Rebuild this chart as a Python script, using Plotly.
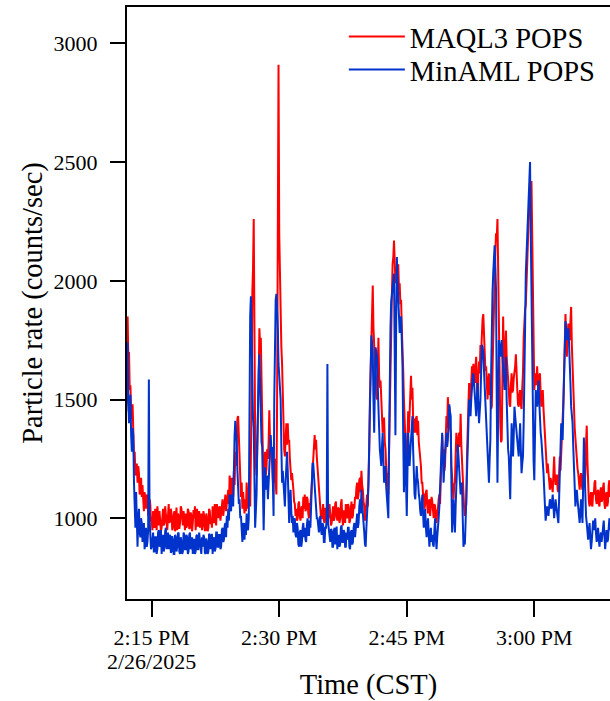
import pandas as pd
import plotly.graph_objects as go

# Particle rate (counts/sec), 5-second samples starting 2025-02-26 14:12:00 (12 per row = 1 minute)
maql3_pops = [
    1620, 1790, 1850, 1680, 1700, 1540, 1560, 1430, 1420, 1480, 1360, 1260,
    1280, 1180, 1200, 1230, 1150, 1220, 1190, 1100, 1120, 1170, 1090, 1140,
    1080, 1030, 1110, 1050, 1040, 1100, 1090, 1010, 1020, 1080, 1060, 990,
    990, 950, 1030, 980, 960, 1040, 1010, 950, 1050, 985, 970, 1030,
    1000, 945, 960, 1020, 1040, 970, 980, 1050, 1020, 960, 950, 1010,
    1060, 980, 990, 1040, 1020, 950, 960, 1010, 1030, 945, 1000, 1045,
    950, 1020, 1010, 955, 980, 1050, 1040, 975, 970, 1030, 1000, 950,
    1020, 960, 970, 1040, 1030, 955, 960, 1025, 1010, 945, 980, 1035,
    1000, 1050, 950, 1010, 1040, 965, 990, 1030, 960, 1000, 1020, 950,
    970, 1030, 1010, 950, 950, 1020, 1000, 945, 960, 1040, 1030, 975,
    1000, 960, 1050, 990, 980, 1060, 1030, 970, 1060, 1000, 1000, 1045,
    1050, 990, 1020, 1070, 1080, 1010, 1040, 1090, 1100, 1030, 1060, 1110,
    1120, 1060, 1180, 1110, 1090, 1170, 1150, 1090, 1200, 1140, 1280, 1220,
    1330, 1420, 1430, 1330, 1250, 1180, 1090, 1150, 1040, 1110, 1080, 1020,
    1080, 1030, 1150, 1050, 1040, 1100, 1100, 1050, 1250, 1480, 1950, 2050,
    2260, 1700, 1350, 1230, 1180, 1300, 1420, 1600, 1800, 1720, 1760, 1500,
    1420, 1250, 1120, 1220, 1280, 1180, 1210, 1290, 1250, 1320, 1455, 1330,
    1310, 1250, 1230, 1160, 1150, 1230, 1250, 1150, 1100, 1500, 2400, 2910,
    2200, 1980, 1900, 1720, 1650, 1480, 1380, 1290, 1260, 1350, 1400, 1310,
    1400, 1320, 1330, 1250, 1220, 1160, 1190, 1120, 1120, 1070, 1060, 1010,
    1040, 990, 1000, 1060, 1070, 1010, 990, 1040, 1050, 1000, 1090, 1040,
    1100, 1030, 1040, 1090, 1080, 1020, 1000, 1060, 1060, 1100, 1150, 1190,
    1240, 1310, 1350, 1290, 1330, 1260, 1220, 1140, 1100, 1060, 1050, 1000,
    1000, 1050, 1060, 990, 980, 1040, 1040, 990, 1080, 1030, 1000, 1060,
    1020, 970, 980, 1040, 1050, 990, 1000, 1060, 1070, 1010, 990, 1045,
    1040, 980, 1000, 1060, 1080, 1000, 970, 1030, 1030, 980, 1060, 1010,
    1000, 1060, 1050, 980, 990, 1040, 1070, 1000, 1010, 1060, 1040, 1090,
    1080, 1130, 1150, 1080, 1100, 1160, 1170, 1110, 1200, 1140, 1120, 1070,
    1050, 990, 1030, 1090, 1100, 1050, 1160, 1290, 1500, 1620, 1790, 1880,
    1980, 1800, 1720, 1660, 1640, 1520, 1500, 1640, 1760, 1600, 1550, 1580,
    1500, 1390, 1360, 1420, 1420, 1320, 1290, 1210, 1150, 1190, 1100, 1280,
    1500, 1720, 1870, 1940, 2070, 2100, 2170, 2030, 1990, 2050, 2060, 2010,
    2070, 1960, 1990, 1900, 1920, 1800, 1730, 1620, 1500, 1400, 1360, 1250,
    1220, 1380, 1450, 1360, 1430, 1540, 1600, 1500, 1550, 1420, 1360, 1420,
    1360, 1420, 1430, 1350, 1410, 1320, 1290, 1240, 1220, 1150, 1150, 1100,
    1100, 1040, 1060, 1110, 1120, 1050, 1020, 1070, 1080, 1010, 1040, 1090,
    1070, 1020, 1000, 1060, 1050, 1000, 980, 1030, 1040, 1080, 1100, 1060,
    1150, 1280, 1350, 1260, 1290, 1200, 1220, 1340, 1430, 1380, 1510, 1450,
    1470, 1380, 1360, 1220, 1150, 1110, 1080, 1140, 1150, 1270, 1360, 1280,
    1290, 1340, 1360, 1300, 1440, 1310, 1220, 1130, 1080, 1040, 1010, 1050,
    1060, 1260, 1430, 1480, 1570, 1480, 1500, 1590, 1640, 1580, 1650, 1590,
    1570, 1640, 1680, 1560, 1500, 1600, 1660, 1610, 1730, 1700, 1800, 1840,
    1860, 1760, 1710, 1620, 1640, 1530, 1500, 1580, 1610, 1520, 1540, 1460,
    1470, 1620, 1750, 1960, 2100, 2120, 2200, 2180, 2260, 2080, 1960, 1620,
    1400, 1320, 1330, 1620, 1850, 1680, 1610, 1720, 1790, 1680, 1610, 1560,
    1540, 1480, 1470, 1560, 1610, 1530, 1540, 1590, 1610, 1640, 1690, 1580,
    1540, 1480, 1470, 1520, 1540, 1480, 1460, 1550, 1610, 1760, 1860, 1880,
    1900, 2010, 2100, 2160, 2250, 2300, 2380, 2400, 2420, 2180, 1960, 1720,
    1540, 1590, 1610, 1560, 1640, 1570, 1540, 1600, 1610, 1520, 1470, 1520,
    1540, 1460, 1400, 1310, 1260, 1210, 1190, 1230, 1190, 1140, 1120, 1170,
    1150, 1110, 1110, 1190, 1260, 1170, 1140, 1180, 1180, 1120, 1110, 1190,
    1260, 1200, 1260, 1330, 1400, 1490, 1610, 1760, 1860, 1740, 1680, 1760,
    1820, 1760, 1750, 1830, 1890, 1730, 1610, 1530, 1470, 1380, 1330, 1280,
    1260, 1210, 1190, 1140, 1120, 1170, 1190, 1140, 1120, 1180, 1190, 1150,
    1190, 1310, 1390, 1240, 1120, 1070, 1050, 1100, 1110, 1060, 1050, 1110,
    1100, 1150, 1160, 1080, 1060, 1110, 1120, 1060, 1050, 1110, 1130, 1070,
    1080, 1130, 1150, 1060, 1040, 1100, 1110, 1050, 1070, 1140, 1160, 1090,
    1100,
]

minaml_pops = [
    1450, 1600, 1740, 1500, 1400, 1480, 1520, 1350, 1280, 1380, 1350, 1150,
    1010, 960, 1110, 980, 880, 990, 1040, 940, 920, 1000, 980, 900,
    930, 980, 870, 940, 960, 880, 900, 950, 1584, 1000, 920, 870,
    880, 930, 940, 860, 860, 920, 920, 850, 870, 940, 950, 880,
    900, 950, 850, 910, 930, 860, 880, 945, 960, 870, 890, 940,
    870, 920, 930, 855, 860, 925, 910, 850, 850, 930, 920, 860,
    880, 935, 940, 860, 850, 920, 900, 850, 860, 940, 930, 870,
    870, 930, 920, 850, 860, 930, 940, 870, 880, 920, 850, 910,
    910, 850, 860, 925, 930, 870, 870, 940, 900, 850, 850, 920,
    880, 930, 920, 855, 850, 915, 900, 850, 860, 935, 930, 870,
    890, 935, 850, 910, 920, 860, 870, 940, 940, 880, 880, 930,
    930, 870, 880, 950, 960, 900, 910, 970, 980, 920, 1010, 960,
    1040, 990, 1100, 1040, 1030, 1100, 1090, 1050, 1250, 1350, 1410, 1380,
    1320, 1200, 1150, 1060, 1080, 1000, 1010, 940, 900, 980, 960, 910,
    980, 930, 1020, 960, 950, 1000, 1690, 1850, 1935, 1700, 1470, 1420,
    1380, 1100, 960, 1030, 1100, 1300, 1550, 1620, 1690, 1500, 1350, 1320,
    1300, 1100, 950, 1100, 1215, 1120, 1150, 1180, 1080, 1140, 1190, 1300,
    1350, 1280, 1300, 1150, 1010, 1500, 1890, 1920, 1945, 1880, 1800, 1650,
    1600, 1560, 1500, 1300, 1150, 1200, 1150, 1080, 1050, 1150, 1230, 1280,
    1200, 1050, 980, 1060, 1120, 1030, 980, 1010, 940, 990, 1000, 930,
    920, 980, 960, 890, 880, 940, 950, 880, 900, 960, 980, 920,
    960, 910, 900, 970, 1000, 930, 930, 990, 960, 1050, 1180, 1230,
    1230, 1180, 1120, 1080, 1060, 1000, 1000, 950, 940, 990, 1010, 950,
    930, 980, 970, 900, 900, 960, 960, 1000, 1650, 980, 950, 900,
    900, 955, 950, 880, 880, 945, 960, 890, 910, 965, 870, 920,
    930, 880, 890, 960, 970, 900, 900, 950, 940, 880, 880, 940,
    910, 960, 960, 880, 870, 940, 950, 890, 900, 960, 980, 920,
    960, 1010, 1020, 960, 980, 1050, 1080, 1020, 1120, 1060, 1000, 950,
    940, 890, 880, 960, 1000, 1080, 1150, 1350, 1560, 1700, 1770, 1740,
    1700, 1500, 1360, 1550, 1720, 1700, 1680, 1560, 1500, 1380, 1290, 1250,
    1220, 1300, 1360, 1250, 1150, 1200, 1220, 1130, 1080, 1020, 1000, 1300,
    1640, 1800, 1910, 1950, 1990, 2010, 2030, 1700, 1350, 1800, 2100, 2000,
    1920, 1850, 1780, 1820, 1850, 1750, 1640, 1350, 1110, 1250, 1360, 1150,
    1010, 1200, 1360, 1280, 1220, 1280, 1330, 1380, 1430, 1290, 1150, 1100,
    1080, 1160, 1220, 1170, 1150, 1100, 1080, 1030, 1010, 1060, 1100, 1020,
    960, 1010, 1040, 960, 920, 970, 1000, 930, 880, 930, 960, 900,
    930, 890, 880, 950, 1000, 920, 870, 920, 950, 1000, 1050, 1130,
    1220, 1300, 1360, 1250, 1150, 1220, 1290, 1340, 1360, 1300, 1330, 1420,
    1480, 1450, 1430, 1150, 940, 1020, 1080, 1000, 940, 1050, 1150, 1250,
    1310, 1260, 1220, 1150, 1100, 1130, 1150, 1000, 880, 900, 890, 980,
    1080, 1230, 1360, 1450, 1500, 1460, 1430, 1500, 1570, 1590, 1610, 1550,
    1500, 1460, 1430, 1500, 1570, 1480, 1400, 1450, 1500, 1620, 1730, 1720,
    1700, 1620, 1550, 1470, 1400, 1330, 1260, 1200, 1150, 1250, 1330, 1600,
    1850, 1950, 2030, 2100, 2150, 2060, 1960, 1500, 1150, 1450, 1750, 1720,
    1680, 1720, 1750, 1680, 1610, 1570, 1540, 1600, 1680, 1500, 1330, 1290,
    1260, 1150, 1080, 1250, 1400, 1320, 1260, 1350, 1470, 1430, 1400, 1360,
    1330, 1290, 1260, 1330, 1400, 1290, 1190, 1230, 1260, 1400, 1540, 1800,
    2030, 2100, 2170, 2280, 2380, 2450, 2500, 2200, 1890, 1600, 1330, 1240,
    1160, 1350, 1540, 1500, 1470, 1530, 1580, 1490, 1400, 1360, 1330, 1290,
    1260, 1190, 1120, 1050, 990, 1020, 1050, 1030, 1010, 1050, 1080, 1060,
    1040, 1070, 1100, 1050, 1000, 1040, 1080, 1050, 1020, 1000, 980, 1080,
    1190, 1300, 1400, 1360, 1330, 1470, 1610, 1720, 1830, 1800, 1750, 1780,
    1800, 1740, 1680, 1570, 1470, 1430, 1400, 1300, 1190, 1120, 1050, 1090,
    1120, 1080, 1050, 1010, 980, 1030, 1080, 1030, 980, 1150, 1340, 1200,
    1050, 1010, 980, 940, 910, 950, 980, 920, 870, 900, 940, 990,
    950, 980, 1000, 940, 900, 930, 960, 910, 880, 920, 940, 900,
    920, 960, 990, 920, 870, 910, 950, 900, 910, 960, 1000, 950,
    960,
]

times = pd.date_range("2025-02-26 14:12:00", periods=len(maql3_pops), freq="5s")

tick_vals = ["2025-02-26 14:15:00", "2025-02-26 14:30:00",
             "2025-02-26 14:45:00", "2025-02-26 15:00:00"]
tick_text = ["2:15 PM", "2:30 PM", "2:45 PM", "3:00 PM"]
date_label = "2/26/2025"
y_ticks = [1000, 1500, 2000, 2500, 3000]

FONT = "Liberation Serif, Times New Roman, serif"
LEG_FONT = dict(family=FONT, size=28.5, color="black")

fig = go.Figure()
fig.add_trace(go.Scatter(x=times, y=maql3_pops, mode="lines", name="MAQL3 POPS",
                         line=dict(color="#FF0000", width=2), legend="legend"))
fig.add_trace(go.Scatter(x=times, y=minaml_pops, mode="lines", name="MinAML POPS",
                         line=dict(color="#0033CC", width=2), legend="legend2"))

fig.update_layout(
    width=610, height=701,
    margin=dict(l=127, r=0, t=7, b=102, autoexpand=False),
    paper_bgcolor="white", plot_bgcolor="white",
    font=dict(family=FONT, size=22, color="black"),
    showlegend=True,
    legend=dict(x=0.449, y=0.9493, xanchor="left", yanchor="middle",
                font=LEG_FONT, bgcolor="rgba(0,0,0,0)", itemwidth=56),
    legend2=dict(x=0.449, y=0.8936, xanchor="left", yanchor="middle",
                 font=LEG_FONT, bgcolor="rgba(0,0,0,0)", itemwidth=56),
    xaxis=dict(
        range=["2025-02-26 14:12:05.7", "2025-02-26 15:08:54.2"],
        tickmode="array", tickvals=tick_vals, ticktext=tick_text,
        showgrid=False, zeroline=False, automargin=False,
        showline=True, linecolor="black", linewidth=2, mirror=True,
        ticks="outside", ticklen=16, tickwidth=2, tickcolor="black",
        ticklabelstandoff=2,
        tickfont=dict(family=FONT, size=22, color="black"),
        title=dict(text="Time (CST)", font=dict(family=FONT, size=28.5, color="black"),
                   standoff=26),
    ),
    yaxis=dict(
        range=[660, 3153],
        tickmode="array", tickvals=y_ticks,
        showgrid=False, zeroline=False, automargin=False,
        showline=True, linecolor="black", linewidth=2, mirror=False,
        ticks="outside", ticklen=15, tickwidth=2, tickcolor="black",
        ticklabelstandoff=8,
        tickfont=dict(family=FONT, size=22, color="black"),
        title=dict(text="Particle rate (counts/sec)",
                   font=dict(family=FONT, size=28.5, color="black"), standoff=3),
    ),
)

fig.add_annotation(x=tick_vals[0], y=0, xref="x", yref="paper",
                   text=date_label, showarrow=False, yanchor="top",
                   yshift=-48, font=dict(family=FONT, size=22, color="black"))

fig.write_html("out.html",
               config={"displayModeBar": False},
               post_script="document.body.style.margin='0px';document.body.style.padding='0px';")
